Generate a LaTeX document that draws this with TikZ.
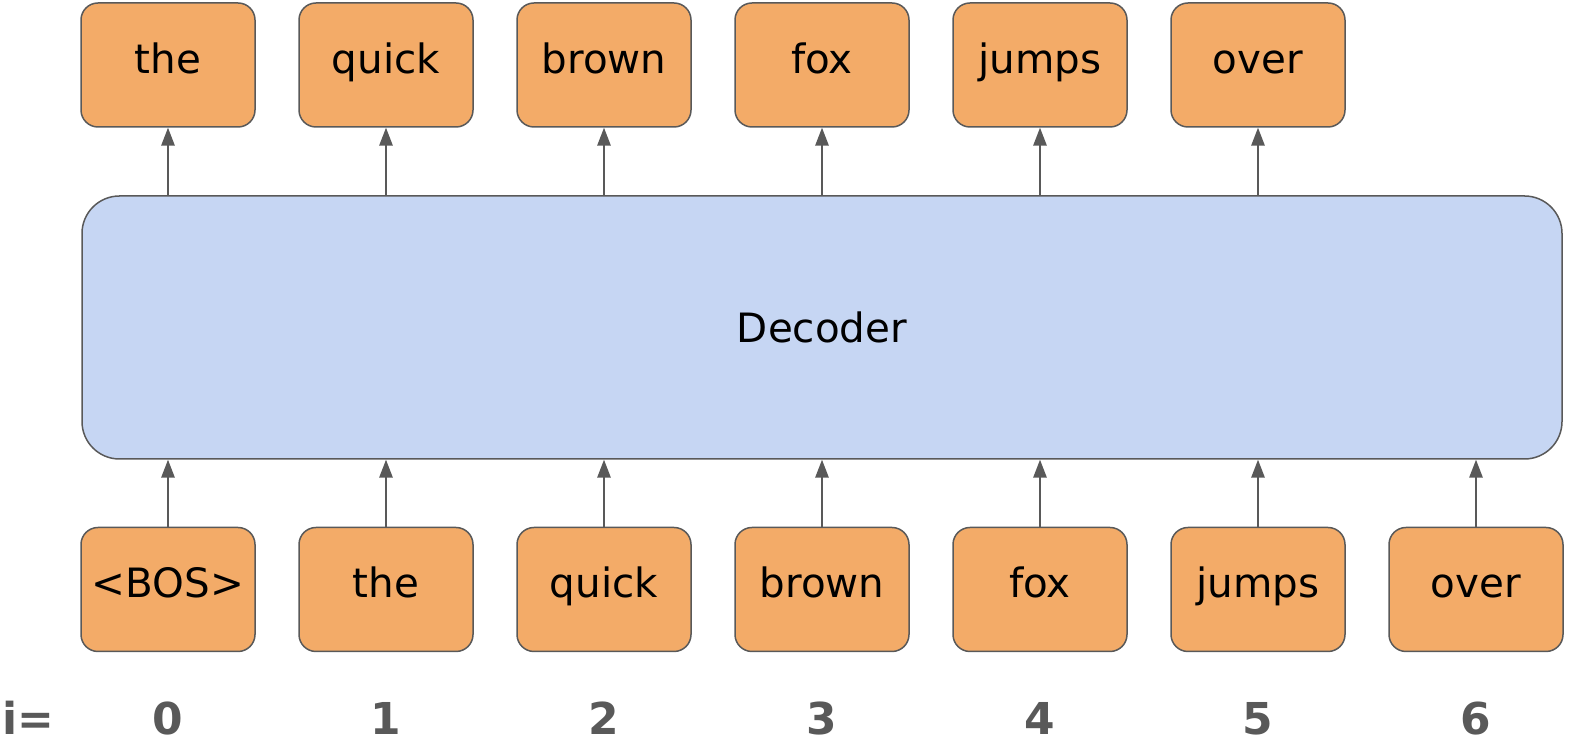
\documentclass[tikz,border=0pt]{standalone}
\usepackage{fontspec}
\setmainfont{DejaVu Sans}
\usetikzlibrary{arrows.meta}
\definecolor{tokorange}{HTML}{F3AB68}
\definecolor{decblue}{HTML}{C6D6F3}
\definecolor{edgegray}{HTML}{595959}
\tikzset{
	tokbox/.style={draw=edgegray, fill=tokorange, line width=0.03cm, rounded corners=0.34cm, minimum width=3.48cm, minimum height=2.48cm, text height=0.95em, text depth=0pt, font=\fontsize{23}{28}\selectfont},
	decbox/.style={draw=edgegray, fill=decblue, line width=0.03cm, rounded corners=0.75cm, minimum width=29.6cm, minimum height=5.26cm, font=\fontsize{23}{28}\selectfont},
	idx/.style={text=edgegray, text height=0.75em, text depth=0em, font=\fontsize{25}{30}\selectfont\bfseries},
	flow/.style={draw=edgegray, line width=0.03cm, -{Triangle[width=0.27cm, length=0.36cm]}}
}

\begin{document}
\begin{tikzpicture}
			%%%%% START %%%%%
			
			\useasboundingbox (0, 0) rectangle (31.72, 14.96);
			
			\node[decbox] (dec) at (16.44, 8.41) {Decoder};
			
			\node[tokbox] (out0) at (3.36, 13.66) {the};
			\node[tokbox] (out1) at (7.72, 13.66) {quick};
			\node[tokbox] (out2) at (12.08, 13.66) {brown};
			\node[tokbox] (out3) at (16.44, 13.66) {fox};
			\node[tokbox] (out4) at (20.80, 13.66) {jumps};
			\node[tokbox] (out5) at (25.16, 13.66) {over};
			
			\node[tokbox] (in0) at (3.36, 3.17) {<BOS>};
			\node[tokbox] (in1) at (7.72, 3.17) {the};
			\node[tokbox] (in2) at (12.08, 3.17) {quick};
			\node[tokbox] (in3) at (16.44, 3.17) {brown};
			\node[tokbox] (in4) at (20.80, 3.17) {fox};
			\node[tokbox] (in5) at (25.16, 3.17) {jumps};
			\node[tokbox] (in6) at (29.52, 3.17) {over};
			
			\draw[flow] (dec.north -| out0) -- (out0.south);
			\draw[flow] (dec.north -| out1) -- (out1.south);
			\draw[flow] (dec.north -| out2) -- (out2.south);
			\draw[flow] (dec.north -| out3) -- (out3.south);
			\draw[flow] (dec.north -| out4) -- (out4.south);
			\draw[flow] (dec.north -| out5) -- (out5.south);
			
			\draw[flow] (in0.north) -- (in0.north |- dec.south);
			\draw[flow] (in1.north) -- (in1.north |- dec.south);
			\draw[flow] (in2.north) -- (in2.north |- dec.south);
			\draw[flow] (in3.north) -- (in3.north |- dec.south);
			\draw[flow] (in4.north) -- (in4.north |- dec.south);
			\draw[flow] (in5.north) -- (in5.north |- dec.south);
			\draw[flow] (in6.north) -- (in6.north |- dec.south);
			
			\node[idx, anchor=west, inner xsep=0pt] (ieq) at (0.04, 0.40) {i=};
			\node[idx] (i0) at (3.36, 0.40) {0};
			\node[idx] (i1) at (7.72, 0.40) {1};
			\node[idx] (i2) at (12.08, 0.40) {2};
			\node[idx] (i3) at (16.44, 0.40) {3};
			\node[idx] (i4) at (20.80, 0.40) {4};
			\node[idx] (i5) at (25.16, 0.40) {5};
			\node[idx] (i6) at (29.52, 0.40) {6};
			
			%%%%% END %%%%%
\end{tikzpicture}
\end{document}
